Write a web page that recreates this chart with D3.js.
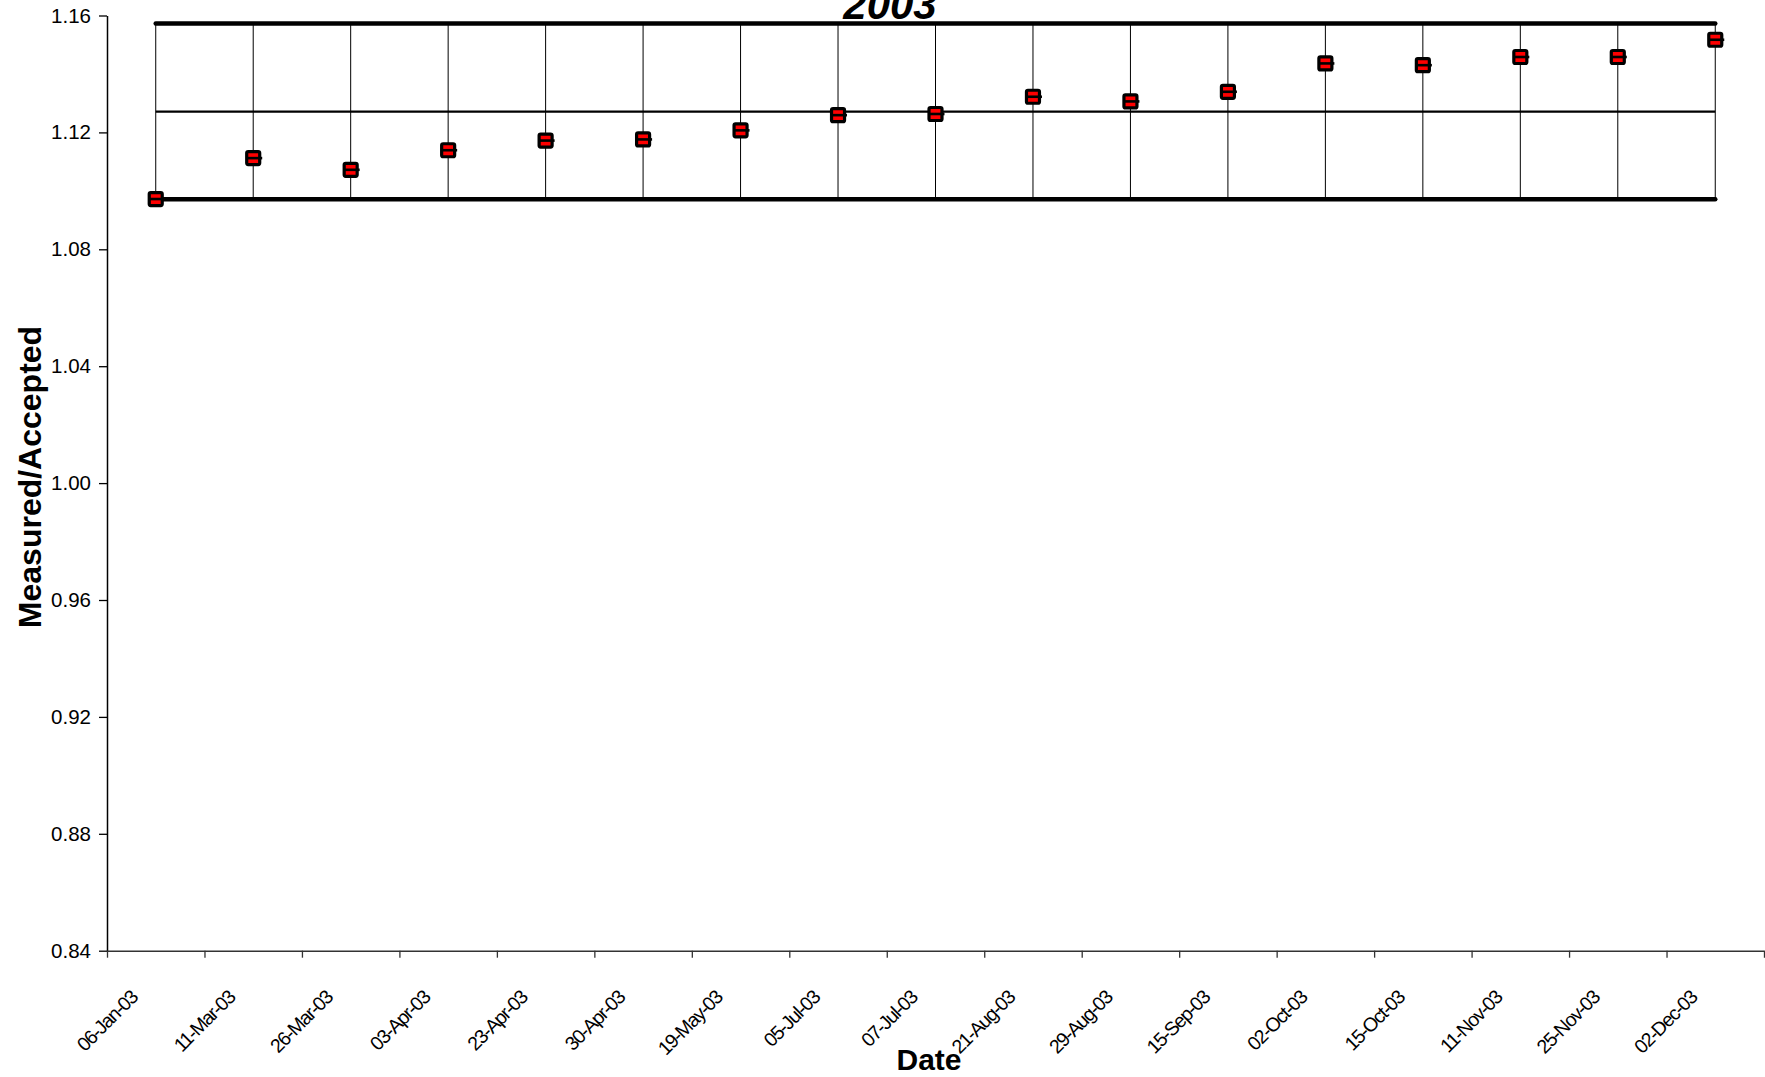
<!DOCTYPE html>
<html>
<head>
<meta charset="utf-8">
<script src="https://cdn.jsdelivr.net/npm/d3@7/dist/d3.min.js"></script>
<style>
  html, body { margin: 0; padding: 0; background: #fff; }
  svg { display: block; font-family: "Liberation Sans", Arial, sans-serif; }
</style>
</head>
<body>
<svg id="chart" width="1765" height="1077"></svg>
<script>
// ---- data ----
const categories = ["06-Jan-03","11-Mar-03","26-Mar-03","03-Apr-03","23-Apr-03","30-Apr-03","19-May-03","05-Jul-03","07-Jul-03","21-Aug-03","29-Aug-03","15-Sep-03","02-Oct-03","15-Oct-03","11-Nov-03","25-Nov-03","02-Dec-03"];
const measured = [1.0972,1.1112,1.1072,1.1139,1.1172,1.1176,1.1207,1.1259,1.1263,1.1322,1.1306,1.1339,1.1436,1.1430,1.1458,1.1458,1.1517];
const upperLimit = [1.1573,1.1573,1.1573,1.1573,1.1573,1.1573,1.1573,1.1573,1.1573,1.1573,1.1573,1.1573,1.1573,1.1573,1.1573,1.1573,1.1573];
const meanLine  = [1.1271,1.1271,1.1271,1.1271,1.1271,1.1271,1.1271,1.1271,1.1271,1.1271,1.1271,1.1271,1.1271,1.1271,1.1271,1.1271,1.1271];
const lowerLimit = [1.0971,1.0971,1.0971,1.0971,1.0971,1.0971,1.0971,1.0971,1.0971,1.0971,1.0971,1.0971,1.0971,1.0971,1.0971,1.0971,1.0971];
const yTicks = [0.84,0.88,0.92,0.96,1.00,1.04,1.08,1.12,1.16];
const chartTitle = "2003";
const xTitle = "Date";
const yTitle = "Measured/Accepted";

// ---- layout ----
const plotLeft = 107, plotRight = 1764, plotTop = 15.5, plotBottom = 950.7;
const svg = d3.select("#chart");

const x = d3.scaleBand().domain(categories).range([plotLeft, plotRight]).padding(0);
const xIdx = d3.scaleLinear().domain([0, categories.length]).range([plotLeft, plotRight]);
const y = d3.scaleLinear().domain([0.84, 1.16]).range([plotBottom, plotTop]);
const cx = c => x(c) + x.bandwidth() / 2;

// y axis
const yAxis = svg.append("g")
  .attr("transform", `translate(${plotLeft},0)`)
  .call(d3.axisLeft(y).tickValues(yTicks).tickFormat(d3.format(".2f")).tickSize(8).tickPadding(8).tickSizeOuter(0));
yAxis.select(".domain").attr("stroke", "#000").attr("stroke-width", 1.5);
yAxis.selectAll(".tick line").attr("stroke", "#000").attr("stroke-width", 1.3);
yAxis.selectAll(".tick text").attr("font-size", 20.5).attr("fill", "#000")
  .attr("font-family", "'Liberation Sans', Arial, sans-serif");

// x axis (ticks at band boundaries)
const xAxis = svg.append("g")
  .attr("transform", `translate(0,${plotBottom})`)
  .call(d3.axisBottom(xIdx).tickValues(d3.range(categories.length + 1)).tickFormat("").tickSize(7).tickSizeOuter(0));
xAxis.select(".domain").attr("stroke", "#333").attr("stroke-width", 1.5);
xAxis.selectAll(".tick line").attr("stroke", "#333").attr("stroke-width", 1.3);

// x labels
const xLab = svg.append("g")
  .attr("transform", `translate(0,${plotBottom})`)
  .call(d3.axisBottom(x).tickSize(0).tickPadding(0));
xLab.select(".domain").remove();
xLab.selectAll(".tick text")
  .attr("font-size", 19.5).attr("fill", "#000")
  .attr("letter-spacing", "-1.3px")
  .attr("font-family", "'Liberation Sans', Arial, sans-serif")
  .attr("text-anchor", "end")
  .attr("dy", null).attr("y", 0)
  .attr("transform", "translate(-17,48) rotate(-45)");

// high-low lines
svg.append("g").selectAll("line").data(categories).join("line")
  .attr("x1", d => cx(d)).attr("x2", d => cx(d))
  .attr("y1", (d, i) => y(upperLimit[i])).attr("y2", (d, i) => y(lowerLimit[i]))
  .attr("stroke", "#000").attr("stroke-width", 1);

// limit lines
const line = arr => d3.line().x((d, i) => cx(categories[i])).y(d => y(d))(arr);
svg.append("path").attr("d", line(upperLimit)).attr("fill", "none").attr("stroke", "#000").attr("stroke-width", 4.5).attr("stroke-linecap", "round");
svg.append("path").attr("d", line(lowerLimit)).attr("fill", "none").attr("stroke", "#000").attr("stroke-width", 4.5).attr("stroke-linecap", "round");
svg.append("path").attr("d", line(meanLine)).attr("fill", "none").attr("stroke", "#000").attr("stroke-width", 2.2);

// markers
const mk = svg.append("g").selectAll("g").data(measured).join("g")
  .attr("transform", (d, i) => `translate(${cx(categories[i])},${y(d)})`);
mk.append("rect").attr("x", -6.5).attr("y", -6.5).attr("width", 13).attr("height", 13).attr("rx", 1.5)
  .attr("fill", "#ff0000").attr("stroke", "#000").attr("stroke-width", 3.2);
mk.append("line").attr("x1", -7).attr("x2", 9).attr("y1", 0).attr("y2", 0)
  .attr("stroke", "#000").attr("stroke-width", 2.6);

// titles
svg.append("text").attr("x", 890).attr("y", 19).attr("text-anchor", "middle")
  .attr("font-size", 42).attr("font-weight", "bold").attr("font-style", "italic").attr("fill", "#000")
  .text(chartTitle);
svg.append("text").attr("x", 929).attr("y", 1070).attr("text-anchor", "middle")
  .attr("font-size", 30).attr("font-weight", "bold").attr("fill", "#000")
  .text(xTitle);
svg.append("text").attr("transform", "translate(41,477) rotate(-90)").attr("text-anchor", "middle")
  .attr("font-size", 32).attr("font-weight", "bold").attr("fill", "#000")
  .text(yTitle);
</script>
</body>
</html>
